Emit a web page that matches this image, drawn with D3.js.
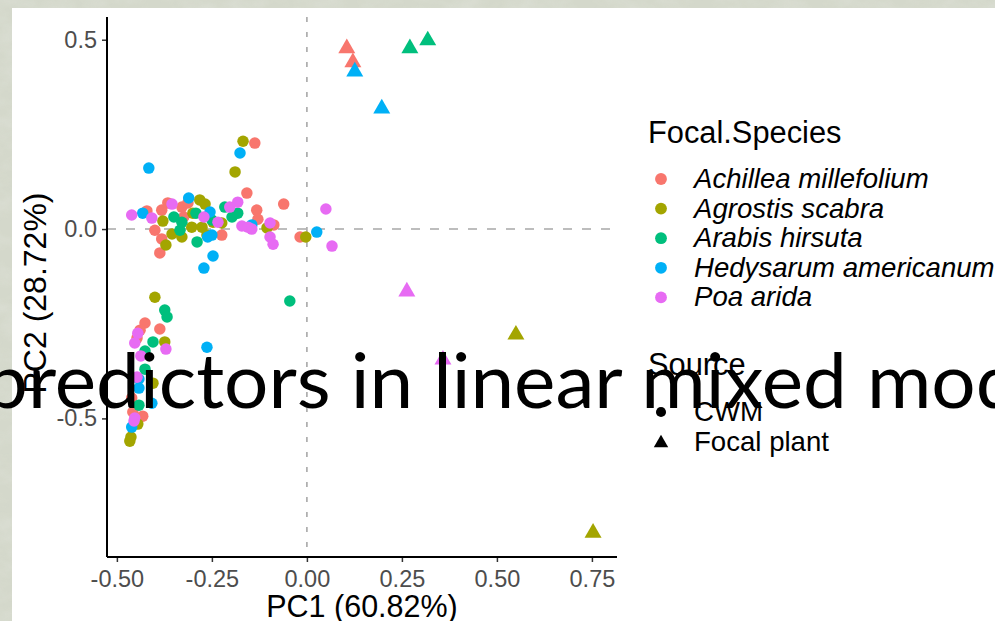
<!DOCTYPE html>
<html>
<head>
<meta charset="utf-8">
<script src="https://cdn.jsdelivr.net/npm/d3@7/dist/d3.min.js"></script>
<style>
  html, body { margin: 0; padding: 0; background: #d3d7ca; }
  svg { display: block; }
</style>
</head>
<body>
<svg id="chart" width="995" height="621"></svg>
<script>
// ---------------- DATA ----------------
const speciesNames = ["Achillea millefolium", "Agrostis scabra", "Arabis hirsuta", "Hedysarum americanum", "Poa arida"];
const speciesColors = ["#F8766D", "#A3A500", "#00BF7D", "#00B0F6", "#E76BF3"];
const sourceNames = ["CWM", "Focal plant"];
const xTicks = [-0.50, -0.25, 0.00, 0.25, 0.50, 0.75];
const yTicks = [-0.5, 0.0, 0.5];
const xTitle = "PC1 (60.82%)";
const yTitle = "PC2 (28.72%)";
const overlayText = "predictors in linear mixed models";

// CWM points [PC1, PC2]
const achilleaCWM = [[-0.421,0.048],[-0.382,0.050],[-0.366,0.069],[-0.329,0.058],[-0.313,0.069],[-0.324,0.032],[-0.400,-0.003],[-0.382,-0.026],[-0.387,-0.063],[-0.224,-0.016],[-0.158,0.095],[-0.061,0.066],[-0.132,0.050],[-0.129,0.026],[-0.087,0.011],[-0.018,-0.021],[-0.137,0.227],
  [-0.426,-0.248],[-0.387,-0.264],[-0.439,-0.267],[-0.447,-0.288],[-0.461,-0.446],[-0.458,-0.483],[-0.432,-0.494]];
const agrostisCWM = [[-0.168,0.232],[-0.189,0.151],[-0.282,0.077],[-0.268,0.066],[-0.300,0.042],[-0.379,0.021],[-0.355,-0.013],[-0.329,-0.021],[-0.303,0.005],[-0.276,0.005],[-0.263,-0.016],[-0.371,-0.042],[-0.247,0.018],[-0.224,0.016],[-0.105,0.003],[-0.003,-0.021],
  [-0.400,-0.180],[-0.374,-0.298],[-0.405,-0.407],[-0.445,-0.515],[-0.463,-0.549],[-0.466,-0.560]];
const arabisCWM = [[-0.350,0.032],[-0.292,0.042],[-0.250,0.024],[-0.334,-0.003],[-0.289,-0.034],[-0.329,0.018],[-0.216,0.058],[-0.197,0.032],[-0.182,0.042],[-0.045,-0.190],
  [-0.374,-0.214],[-0.368,-0.232],[-0.405,-0.298],[-0.426,-0.322],[-0.426,-0.370],[-0.442,-0.465]];
const hedysarumCWM = [[-0.416,0.161],[-0.432,0.042],[-0.311,0.082],[-0.255,0.045],[-0.261,-0.021],[-0.247,-0.071],[-0.271,-0.103],[-0.176,0.201],[-0.250,-0.016],[-0.145,0.011],[0.026,-0.008],
  [-0.263,-0.312],[-0.442,-0.396],[-0.442,-0.420],[-0.408,-0.460],[-0.461,-0.523]];
const poaCWM = [[-0.461,0.037],[-0.408,0.029],[-0.355,0.066],[-0.271,0.032],[-0.234,0.018],[-0.182,0.071],[-0.203,0.058],[-0.171,0.008],[-0.155,0.005],[-0.145,0.000],[-0.097,0.016],[-0.097,-0.021],[-0.089,-0.040],[0.050,0.053],[0.066,-0.045],
  [-0.445,-0.275],[-0.453,-0.301],[-0.371,-0.317],[-0.437,-0.335],[-0.447,-0.391],[-0.453,-0.499],[-0.455,-0.507]];

// Focal plant points [PC1, PC2]
const achilleaFocal = [[0.105,0.481],[0.121,0.444]];
const agrostisFocal = [[0.550,-0.275],[0.753,-0.798]];
const arabisFocal = [[0.271,0.481],[0.318,0.502]];
const hedysarumFocal = [[0.126,0.420],[0.197,0.322]];
const poaFocal = [[0.263,-0.161],[0.358,-0.341]];

const cwmBySpecies = [achilleaCWM, agrostisCWM, arabisCWM, hedysarumCWM, poaCWM];
const focalBySpecies = [achilleaFocal, agrostisFocal, arabisFocal, hedysarumFocal, poaFocal];

// ---------------- LAYOUT ----------------
const W = 995, H = 621;
const panel = { left: 107, right: 617, top: 17, bottom: 557 };
const svg = d3.select("#chart");

// background texture
const defs = svg.append("defs");
const f = defs.append("filter").attr("id", "tex").attr("x", 0).attr("y", 0).attr("width", 1).attr("height", 1);
f.append("feTurbulence").attr("type", "fractalNoise").attr("baseFrequency", "0.035 0.06").attr("numOctaves", 3).attr("seed", 7);
f.append("feColorMatrix").attr("type", "matrix")
  .attr("values", "0 0 0 0 0.78  0 0 0 0 0.80  0 0 0 0 0.74  0.9 0 0 0 -0.35");
svg.append("rect").attr("width", W).attr("height", H).attr("fill", "#d4d8cb");
svg.append("rect").attr("width", W).attr("height", H).attr("filter", "url(#tex)").attr("opacity", 0.8);
svg.append("rect").attr("x", 12).attr("y", 8).attr("width", W - 12).attr("height", H - 8).attr("fill", "#ffffff");

const x = d3.scaleLinear().domain([-0.526, 0.816]).range([panel.left, panel.right]);
const y = d3.scaleLinear().domain([-0.866, 0.560]).range([panel.bottom, panel.top]);

// zero reference lines
svg.append("line")
  .attr("x1", x(0)).attr("x2", x(0)).attr("y1", panel.top).attr("y2", panel.bottom)
  .attr("stroke", "#a8a8a8").attr("stroke-width", 1.6).attr("stroke-dasharray", "5,10");
svg.append("line")
  .attr("x1", panel.left).attr("x2", panel.right).attr("y1", y(0)).attr("y2", y(0))
  .attr("stroke", "#a8a8a8").attr("stroke-width", 1.6).attr("stroke-dasharray", "9,10");

// points
const circleSym = d3.symbol().type(d3.symbolCircle).size(104);
const triSym = d3.symbol().type(d3.symbolTriangle).size(125);
const gPts = svg.append("g");
speciesNames.forEach((s, i) => {
  gPts.selectAll(null).data(cwmBySpecies[i]).join("path")
    .attr("d", circleSym)
    .attr("transform", d => `translate(${x(d[0])},${y(d[1])})`)
    .attr("fill", speciesColors[i]);
});
speciesNames.forEach((s, i) => {
  gPts.selectAll(null).data(focalBySpecies[i]).join("path")
    .attr("d", triSym)
    .attr("transform", d => `translate(${x(d[0])},${y(d[1]) + 1.5})`)
    .attr("fill", speciesColors[i]);
});

// axes
const tickFont = "'Liberation Sans', Arial, Helvetica, sans-serif";
const xAxis = svg.append("g").attr("transform", `translate(0,${panel.bottom})`)
  .call(d3.axisBottom(x).tickValues(xTicks).tickFormat(d3.format(".2f")).tickSize(5).tickPadding(8).tickSizeOuter(0));
const yAxis = svg.append("g").attr("transform", `translate(${panel.left},0)`)
  .call(d3.axisLeft(y).tickValues(yTicks).tickFormat(d3.format(".1f")).tickSize(5).tickPadding(5).tickSizeOuter(0));
[xAxis, yAxis].forEach(g => {
  g.select(".domain").remove();
  g.selectAll(".tick line").attr("stroke", "#333").attr("stroke-width", 1.5);
  g.selectAll(".tick text").attr("fill", "#4d4d4d").style("font-family", tickFont).style("font-size", "23.5px");
});
xAxis.selectAll(".tick text").text(d => d3.format(".2f")(d).replace("−", "-"));
yAxis.selectAll(".tick text").text(d => d3.format(".1f")(d).replace("−", "-"));
svg.append("line").attr("x1", panel.left).attr("x2", panel.right).attr("y1", panel.bottom).attr("y2", panel.bottom)
  .attr("stroke", "#000").attr("stroke-width", 2);
svg.append("line").attr("x1", panel.left).attr("x2", panel.left).attr("y1", panel.top).attr("y2", panel.bottom)
  .attr("stroke", "#000").attr("stroke-width", 2);

// axis titles
svg.append("text").attr("x", (panel.left + panel.right) / 2).attr("y", 617)
  .attr("text-anchor", "middle").style("font-family", tickFont).style("font-size", "30.5px").attr("fill", "#000")
  .text(xTitle);
svg.append("text").attr("transform", `translate(46,${(panel.top + panel.bottom) / 2 + 6}) rotate(-90)`)
  .attr("text-anchor", "middle").style("font-family", tickFont).style("font-size", "32px").attr("fill", "#000")
  .text(yTitle);

// legend: species
const lg = svg.append("g");
lg.append("text").attr("x", 648).attr("y", 143).style("font-family", tickFont).style("font-size", "30.8px").attr("fill", "#000")
  .text("Focal.Species");
speciesNames.forEach((s, i) => {
  const cy = 179 + i * 29.6;
  lg.append("path").attr("d", d3.symbol().type(d3.symbolCircle).size(110)).attr("transform", `translate(661,${cy})`).attr("fill", speciesColors[i]);
  lg.append("text").attr("x", 694).attr("y", cy + 9).style("font-family", tickFont).style("font-size", "27.6px")
    .style("font-style", "italic").attr("fill", "#000").text(s);
});
// legend: source
lg.append("text").attr("x", 648).attr("y", 375).style("font-family", tickFont).style("font-size", "30.8px").attr("fill", "#000")
  .text("Source");
const srcSyms = [d3.symbol().type(d3.symbolCircle).size(80), d3.symbol().type(d3.symbolTriangle).size(90)];
sourceNames.forEach((s, i) => {
  const cy = 412 + i * 30;
  lg.append("path").attr("d", srcSyms[i]).attr("transform", `translate(661,${cy + (i ? 1 : 0)})`).attr("fill", "#000");
  lg.append("text").attr("x", 694).attr("y", cy + 9).style("font-family", tickFont).style("font-size", "27.6px")
    .attr("fill", "#000").text(s);
});

// overlay slide text
const ov = svg.append("text").attr("x", 0).attr("y", 0)
  .style("font-family", "Lato, 'Open Sans', sans-serif").style("font-weight", 400).style("font-size", "75px")
  .attr("fill", "#000").text(overlayText);
const wPart = ov.node().getSubStringLength(0, 29);
const sx = 992 / wPart;
ov.attr("transform", `translate(-16,408) scale(${sx},1)`);
</script>
</body>
</html>
